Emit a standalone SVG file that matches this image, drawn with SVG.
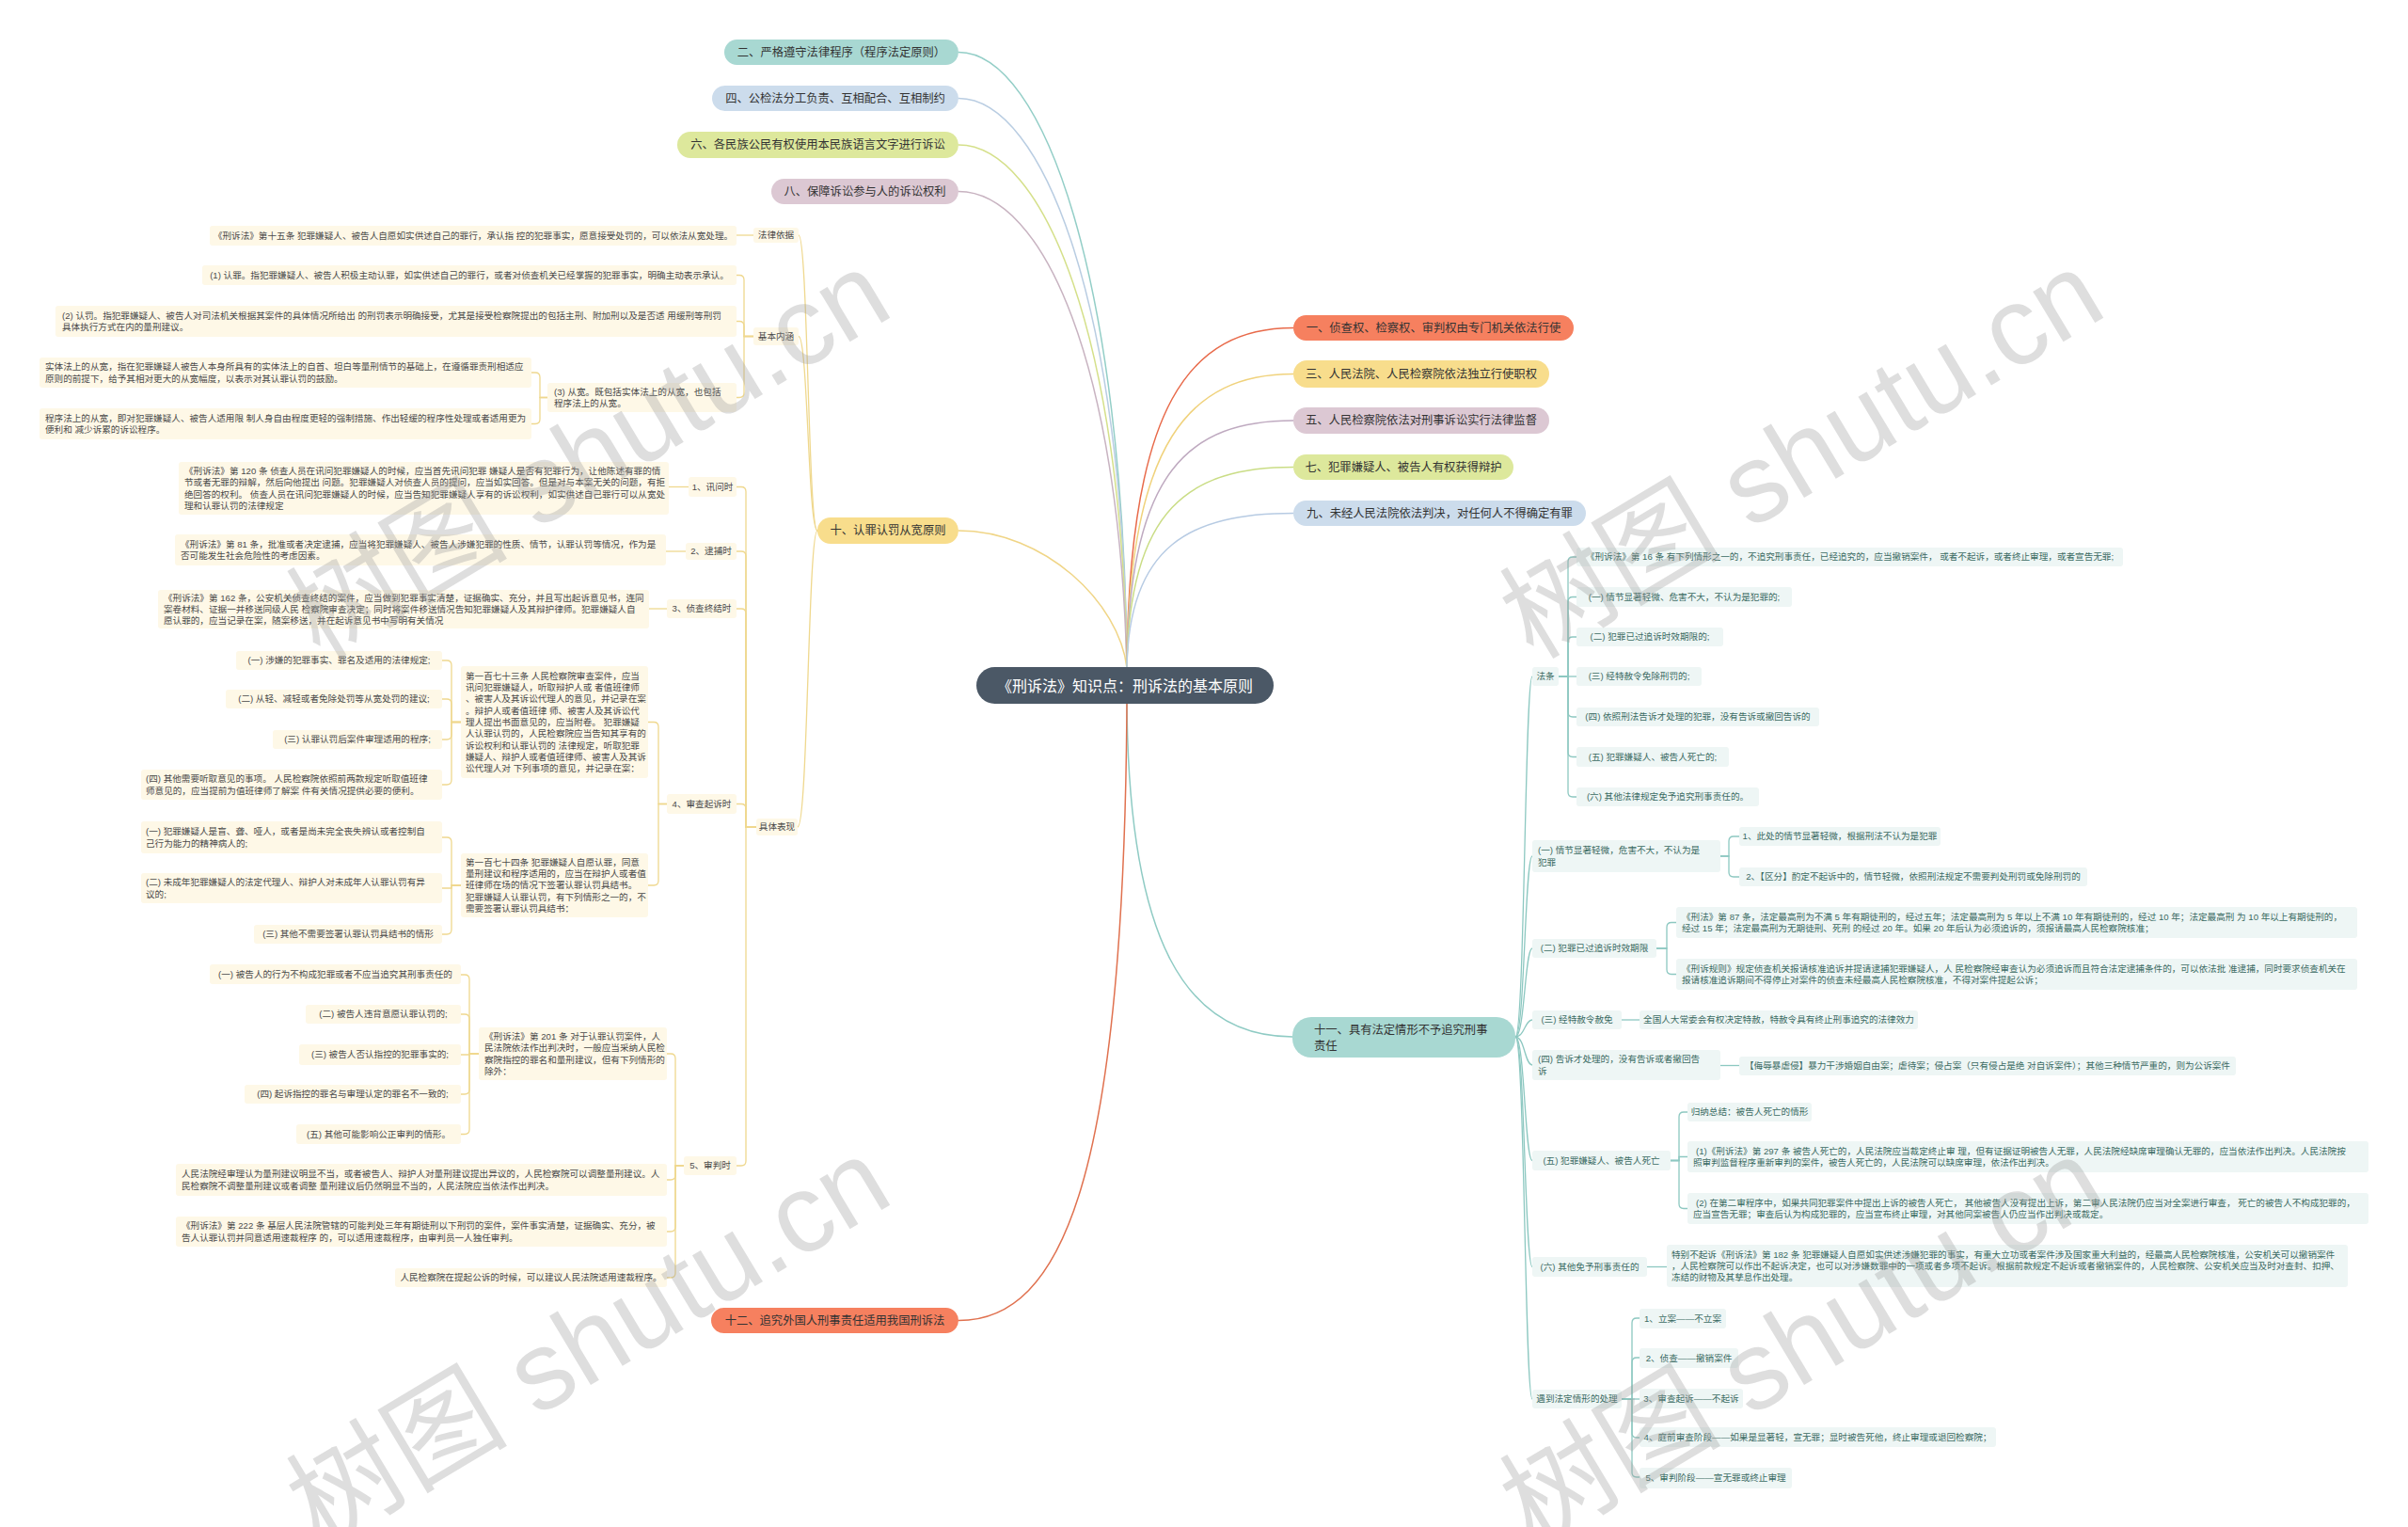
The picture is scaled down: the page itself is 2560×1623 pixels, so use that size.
<svg xmlns="http://www.w3.org/2000/svg" width="2560" height="1623" viewBox="0 0 2560 1623">
<style>
text{font-family:"Liberation Sans","Noto Sans CJK SC",sans-serif}
.b1{fill:#FEF8E7}
.b2{fill:#EEF6F5}
.t1{font-size:9.6px;fill:#4a4a4a}
.t2{font-size:9.6px;fill:#3B6B63}
.m{text-anchor:middle}
.rt{font-size:12.3px;fill:#333;text-anchor:middle}
.lc{fill:none;stroke:#EFD88E;stroke-width:1.3}
.rc{fill:none;stroke:#8DC8C1;stroke-width:1.3}
.mc{fill:none;stroke-width:1.5}
.wm{font-size:118px;fill:#999;fill-opacity:.32}
</style>
<rect width="2560" height="1623" fill="#fff"/>
<g id="connectors">
<path class="mc" stroke="#93CEC7" d="M1198,710 C1195,300 1110,55.5 1019,55.5"/>
<path class="mc" stroke="#B9CDE2" d="M1198,710 C1195,330 1110,104.5 1019,104.5"/>
<path class="mc" stroke="#D5E08A" d="M1198,710 C1193,360 1110,154 1019,154"/>
<path class="mc" stroke="#C8B3C1" d="M1198,710 C1190,390 1110,203.5 1019,203.5"/>
<path class="mc" stroke="#F0D586" d="M1198,710 C1190,640 1110,564 1019,564"/>
<path class="mc" stroke="#E86A4A" d="M1198,710 C1200,430 1265,348.5 1375,348.5"/>
<path class="mc" stroke="#F0D27C" d="M1198,710 C1200,470 1265,397.5 1375,397.5"/>
<path class="mc" stroke="#BFAAC0" d="M1198,710 C1200,500 1265,447 1375,447"/>
<path class="mc" stroke="#CADD86" d="M1198,710 C1200,540 1265,496.5 1375,496.5"/>
<path class="mc" stroke="#B7CBE3" d="M1198,710 C1200,580 1265,545.5 1375,545.5"/>
<path class="mc" stroke="#8FCBC4" d="M1198,748 C1200,1000 1260,1102 1374,1102"/>
<path class="mc" stroke="#E0714F" d="M1198,748 C1195,1250 1130,1403.5 1019,1403.5"/>
<path class="lc" d="M869,564 C859,564 859,250 849,250"/>
<path class="lc" d="M869,564 C859,564 859,357.5 849,357.5"/>
<path class="lc" d="M869,564 C859,564 859,879 848,879"/>
<path class="lc" d="M801,250 H783"/>
<path class="lc" d="M801,357.5 H791 V297.5 Q791,292.5 786,292.5 H783"/>
<path class="lc" d="M801,357.5 H791 V346.5 Q791,341.5 786,341.5 H783"/>
<path class="lc" d="M801,357.5 H791 V417.5 Q791,422.5 786,422.5 H783"/>
<path class="lc" d="M582,422.5 H574 V401 Q574,396 569,396 H565"/>
<path class="lc" d="M582,422.5 H574 V445.5 Q574,450.5 569,450.5 H565"/>
<path class="lc" d="M804,879 H793 V522.5 Q793,517.5 788,517.5 H783"/>
<path class="lc" d="M804,879 H793 V591 Q793,586 788,586 H783"/>
<path class="lc" d="M804,879 H793 V652 Q793,647 788,647 H783"/>
<path class="lc" d="M804,879 H793 V859.5 Q793,854.5 788,854.5 H783"/>
<path class="lc" d="M804,879 H793 V1234 Q793,1239 788,1239 H783"/>
<path class="lc" d="M732,517.5 H711"/>
<path class="lc" d="M729,586 H708"/>
<path class="lc" d="M709,647 H690"/>
<path class="lc" d="M709,854.5 H700 V772.5 Q700,767.5 695,767.5 H689"/>
<path class="lc" d="M709,854.5 H700 V936 Q700,941 695,941 H689"/>
<path class="lc" d="M490,767.5 H480 V707 Q480,702 475,702 H470"/>
<path class="lc" d="M490,767.5 H480 V748 Q480,743 475,743 H470"/>
<path class="lc" d="M490,767.5 H480 V781 Q480,786 475,786 H470"/>
<path class="lc" d="M490,767.5 H480 V829 Q480,834 475,834 H470"/>
<path class="lc" d="M490,941 H480 V895 Q480,890 475,890 H470"/>
<path class="lc" d="M490,941 H480 V944 H470"/>
<path class="lc" d="M490,941 H480 V988 Q480,993 475,993 H470"/>
<path class="lc" d="M727,1239 H718 V1125 Q718,1120 713,1120 H709"/>
<path class="lc" d="M727,1239 H718 V1249 Q718,1254 713,1254 H709"/>
<path class="lc" d="M727,1239 H718 V1304 Q718,1309 713,1309 H709"/>
<path class="lc" d="M727,1239 H718 V1353 Q718,1358 713,1358 H709"/>
<path class="lc" d="M509,1120 H499 V1041 Q499,1036 494,1036 H490"/>
<path class="lc" d="M509,1120 H499 V1083 Q499,1078 494,1078 H490"/>
<path class="lc" d="M509,1120 H499 V1121 H490"/>
<path class="lc" d="M509,1120 H499 V1158 Q499,1163 494,1163 H490"/>
<path class="lc" d="M509,1120 H499 V1200.5 Q499,1205.5 494,1205.5 H490"/>
<path class="rc" d="M1611,1102 C1621,1102 1621,719 1629,719"/>
<path class="rc" d="M1611,1102 C1621,1102 1621,910 1629,910"/>
<path class="rc" d="M1611,1102 C1621,1102 1621,1008 1629,1008"/>
<path class="rc" d="M1611,1102 C1621,1102 1621,1084 1629,1084"/>
<path class="rc" d="M1611,1102 C1621,1102 1621,1132 1629,1132"/>
<path class="rc" d="M1611,1102 C1621,1102 1621,1233.5 1629,1233.5"/>
<path class="rc" d="M1611,1102 C1621,1102 1621,1346.5 1629,1346.5"/>
<path class="rc" d="M1611,1102 C1621,1102 1621,1487 1629,1487"/>
<path class="rc" d="M1657,719 H1667 V597 Q1667,592 1672,592 H1676"/>
<path class="rc" d="M1657,719 H1667 V639.5 Q1667,634.5 1672,634.5 H1676"/>
<path class="rc" d="M1657,719 H1667 V682 Q1667,677 1672,677 H1676"/>
<path class="rc" d="M1657,719 H1676"/>
<path class="rc" d="M1657,719 H1667 V757 Q1667,762 1672,762 H1676"/>
<path class="rc" d="M1657,719 H1667 V799.5 Q1667,804.5 1672,804.5 H1676"/>
<path class="rc" d="M1657,719 H1667 V842 Q1667,847 1672,847 H1676"/>
<path class="rc" d="M1829,910 H1838 V894 Q1838,889 1843,889 H1849"/>
<path class="rc" d="M1829,910 H1838 V927 Q1838,932 1843,932 H1849"/>
<path class="rc" d="M1761,1008 H1772 V985.5 Q1772,980.5 1777,980.5 H1782"/>
<path class="rc" d="M1761,1008 H1772 V1030.5 Q1772,1035.5 1777,1035.5 H1782"/>
<path class="rc" d="M1724,1084 H1743"/>
<path class="rc" d="M1829,1132.5 H1849"/>
<path class="rc" d="M1776,1233.5 H1785 V1187 Q1785,1182 1790,1182 H1794"/>
<path class="rc" d="M1776,1233.5 H1785 V1229.5 H1794"/>
<path class="rc" d="M1776,1233.5 H1785 V1279.5 Q1785,1284.5 1790,1284.5 H1794"/>
<path class="rc" d="M1751,1346.5 H1772"/>
<path class="rc" d="M1724,1487 H1735 V1406 Q1735,1401 1740,1401 H1743"/>
<path class="rc" d="M1724,1487 H1735 V1448 Q1735,1443 1740,1443 H1743"/>
<path class="rc" d="M1724,1487 H1743"/>
<path class="rc" d="M1724,1487 H1735 V1523 Q1735,1528 1740,1528 H1743"/>
<path class="rc" d="M1724,1487 H1735 V1565 Q1735,1570 1740,1570 H1743"/>
</g>
<g id="root"><rect x="1038" y="709" width="316" height="39" rx="19.5" fill="#4B5866"/><text x="1196" y="734.5" font-size="16" fill="#fff" text-anchor="middle">《刑诉法》知识点：刑诉法的基本原则</text></g>
<g id="n2"><rect x="770" y="42" width="249" height="27" rx="13.5" fill="#A8D8D2"/><text class="rt" x="894.5" y="59.8">二、严格遵守法律程序（程序法定原则）</text></g>
<g id="n4"><rect x="757" y="91" width="262" height="27" rx="13.5" fill="#CCDCEC"/><text class="rt" x="888" y="108.8">四、公检法分工负责、互相配合、互相制约</text></g>
<g id="n6"><rect x="720" y="140" width="299" height="28" rx="14" fill="#DDE89C"/><text class="rt" x="869.5" y="158.3">六、各民族公民有权使用本民族语言文字进行诉讼</text></g>
<g id="n8"><rect x="820" y="190" width="199" height="27" rx="13.5" fill="#DCC8D3"/><text class="rt" x="919.5" y="207.8">八、保障诉讼参与人的诉讼权利</text></g>
<g id="n10"><rect x="869" y="550" width="150" height="28" rx="14" fill="#F8DD8C"/><text class="rt" x="944" y="568.3">十、认罪认罚从宽原则</text></g>
<g id="n1"><rect x="1375" y="335" width="298" height="27" rx="13.5" fill="#F6805F"/><text class="rt" x="1524" y="352.8">一、侦查权、检察权、审判权由专门机关依法行使</text></g>
<g id="n3"><rect x="1375" y="383" width="272" height="29" rx="14.5" fill="#F8DD8C"/><text class="rt" x="1511" y="401.8">三、人民法院、人民检察院依法独立行使职权</text></g>
<g id="n5"><rect x="1375" y="433" width="272" height="28" rx="14" fill="#DCC8D3"/><text class="rt" x="1511" y="451.3">五、人民检察院依法对刑事诉讼实行法律监督</text></g>
<g id="n7"><rect x="1375" y="483" width="234" height="27" rx="13.5" fill="#DDE89C"/><text class="rt" x="1492" y="500.8">七、犯罪嫌疑人、被告人有权获得辩护</text></g>
<g id="n9"><rect x="1375" y="532" width="311" height="27" rx="13.5" fill="#CCDCEC"/><text class="rt" x="1530.5" y="549.8">九、未经人民法院依法判决，对任何人不得确定有罪</text></g>
<g id="n11"><rect x="1374" y="1081" width="237" height="43" rx="20" fill="#A8D8D2"/><text font-size="12.3" fill="#333" x="1397" y="1099.3">十一、具有法定情形不予追究刑事<tspan x="1397" y="1116">责任</tspan></text></g>
<g id="n12"><rect x="756" y="1390" width="263" height="27" rx="13.5" fill="#F6805F"/><text class="rt" x="887.5" y="1407.8">十二、追究外国人刑事责任适用我国刑诉法</text></g>
<g id="A"><rect class="b1" x="801" y="242" width="48" height="16" rx="3"/><text class="t1 m" x="825" y="253.4">法律依据</text></g>
<g id="B"><rect class="b1" x="223" y="240" width="560" height="21" rx="3"/><text class="t1 m" x="503" y="253.9">《刑诉法》第十五条 犯罪嫌疑人、被告人自愿如实供述自己的罪行，承认指 控的犯罪事实，愿意接受处罚的，可以依法从宽处理。</text></g>
<g id="C"><rect class="b1" x="801" y="348" width="48" height="19" rx="3"/><text class="t1 m" x="825" y="360.9">基本内涵</text></g>
<g id="D"><rect class="b1" x="215" y="282" width="568" height="21" rx="3"/><text class="t1 m" x="499" y="295.9">(1) 认罪。指犯罪嫌疑人、被告人积极主动认罪，如实供述自己的罪行，或者对侦查机关已经掌握的犯罪事实，明确主动表示承认。</text></g>
<g id="E"><rect class="b1" x="59" y="325" width="724" height="33" rx="3"/><text class="t1" x="66" y="338.8">(2) 认罚。指犯罪嫌疑人、被告人对司法机关根据其案件的具体情况所给出 的刑罚表示明确接受，尤其是接受检察院提出的包括主刑、附加刑以及是否适 用缓刑等刑罚<tspan x="66" y="351.1">具体执行方式在内的量刑建议。</tspan></text></g>
<g id="F"><rect class="b1" x="582" y="407" width="201" height="31" rx="3"/><text class="t1" x="589" y="419.8">(3) 从宽。既包括实体法上的从宽，也包括<tspan x="589" y="432">程序法上的从宽。</tspan></text></g>
<g id="G"><rect class="b1" x="42" y="380" width="523" height="32" rx="3"/><text class="t1" x="48" y="393.3">实体法上的从宽，指在犯罪嫌疑人被告人本身所具有的实体法上的自首、坦白等量刑情节的基础上，在遵循罪责刑相适应<tspan x="48" y="405.5">原则的前提下，给予其相对更大的从宽幅度，以表示对其认罪认罚的鼓励。</tspan></text></g>
<g id="H"><rect class="b1" x="42" y="434" width="523" height="33" rx="3"/><text class="t1" x="48" y="447.8">程序法上的从宽，即对犯罪嫌疑人、被告人适用限 制人身自由程度更轻的强制措施、作出轻缓的程序性处理或者适用更为<tspan x="48" y="460">便利和 减少诉累的诉讼程序。</tspan></text></g>
<g id="I"><rect class="b1" x="804" y="870" width="44" height="18" rx="3"/><text class="t1 m" x="826" y="882.4">具体表现</text></g>
<g id="J"><rect class="b1" x="732" y="507" width="51" height="21" rx="3"/><text class="t1 m" x="757.5" y="520.9">1、讯问时</text></g>
<g id="K"><rect class="b1" x="190" y="491" width="521" height="56" rx="3"/><text class="t1" x="196" y="503.9">《刑诉法》第 120 条 侦查人员在讯问犯罪嫌疑人的时候，应当首先讯问犯罪 嫌疑人是否有犯罪行为，让他陈述有罪的情<tspan x="196" y="516.2">节或者无罪的辩解，然后向他提出 问题。犯罪嫌疑人对侦查人员的提问，应当如实回答。但是对与本案无关的问题，有拒</tspan><tspan x="196" y="528.6">绝回答的权利。 侦查人员在讯问犯罪嫌疑人的时候，应当告知犯罪嫌疑人享有的诉讼权利，如实供述自己罪行可以从宽处</tspan><tspan x="196" y="540.9">理和认罪认罚的法律规定</tspan></text></g>
<g id="L"><rect class="b1" x="729" y="577" width="54" height="18" rx="3"/><text class="t1 m" x="756" y="589.4">2、逮捕时</text></g>
<g id="M"><rect class="b1" x="186" y="568" width="522" height="33" rx="3"/><text class="t1" x="192" y="581.8">《刑诉法》第 81 条，批准或者决定逮捕，应当将犯罪嫌疑人、被告人涉嫌犯罪的性质、情节，认罪认罚等情况，作为是<tspan x="192" y="594.1">否可能发生社会危险性的考虑因素。</tspan></text></g>
<g id="N"><rect class="b1" x="709" y="637" width="74" height="20" rx="3"/><text class="t1 m" x="746" y="650.4">3、侦查终结时</text></g>
<g id="O"><rect class="b1" x="168" y="627" width="522" height="41" rx="3"/><text class="t1" x="174" y="638.6">《刑诉法》第 162 条，公安机关侦查终结的案件，应当做到犯罪事实清楚，证据确实、充分，并且写出起诉意见书，连同<tspan x="174" y="650.9">案卷材料、证据一并移送同级人民 检察院审查决定；同时将案件移送情况告知犯罪嫌疑人及其辩护律师。犯罪嫌疑人自</tspan><tspan x="174" y="663.2">愿认罪的，应当记录在案，随案移送，并在起诉意见书中写明有关情况</tspan></text></g>
<g id="P"><rect class="b1" x="709" y="844" width="74" height="21" rx="3"/><text class="t1 m" x="746" y="857.9">4、审查起诉时</text></g>
<g id="Q"><rect class="b1" x="490" y="708" width="199" height="119" rx="3"/><text class="t1" x="495" y="721.7">第一百七十三条 人民检察院审查案件，应当<tspan x="495" y="734">讯问犯罪嫌疑人，听取辩护人或 者值班律师</tspan><tspan x="495" y="746.3">、被害人及其诉讼代理人的意见，并记录在案</tspan><tspan x="495" y="758.6">。辩护人或者值班律 师、被害人及其诉讼代</tspan><tspan x="495" y="770.9">理人提出书面意见的，应当附卷。 犯罪嫌疑</tspan><tspan x="495" y="783.2">人认罪认罚的，人民检察院应当告知其享有的</tspan><tspan x="495" y="795.5">诉讼权利和认罪认罚的 法律规定，听取犯罪</tspan><tspan x="495" y="807.8">嫌疑人、辩护人或者值班律师、被害人及其诉</tspan><tspan x="495" y="820.1">讼代理人对 下列事项的意见，并记录在案：</tspan></text></g>
<g id="R1"><rect class="b1" x="251" y="692" width="219" height="20" rx="3"/><text class="t1 m" x="360.5" y="705.4">(一) 涉嫌的犯罪事实、罪名及适用的法律规定;</text></g>
<g id="R2"><rect class="b1" x="240" y="733" width="230" height="20" rx="3"/><text class="t1 m" x="355" y="746.4">(二) 从轻、减轻或者免除处罚等从宽处罚的建议;</text></g>
<g id="R3"><rect class="b1" x="290" y="776" width="180" height="20" rx="3"/><text class="t1 m" x="380" y="789.4">(三) 认罪认罚后案件审理适用的程序;</text></g>
<g id="R4"><rect class="b1" x="150" y="818" width="320" height="32" rx="3"/><text class="t1" x="155" y="831.3">(四) 其他需要听取意见的事项。 人民检察院依照前两款规定听取值班律<tspan x="155" y="843.6">师意见的，应当提前为值班律师了解案 件有关情况提供必要的便利。</tspan></text></g>
<g id="S"><rect class="b1" x="490" y="907" width="199" height="68" rx="3"/><text class="t1" x="495" y="919.8">第一百七十四条 犯罪嫌疑人自愿认罪，同意<tspan x="495" y="932.1">量刑建议和程序适用的，应当在辩护人或者值</tspan><tspan x="495" y="944.4">班律师在场的情况下签署认罪认罚具结书。</tspan><tspan x="495" y="956.7">犯罪嫌疑人认罪认罚，有下列情形之一的，不</tspan><tspan x="495" y="969">需要签署认罪认罚具结书：</tspan></text></g>
<g id="T1"><rect class="b1" x="150" y="873" width="320" height="34" rx="3"/><text class="t1" x="155" y="887.3">(一) 犯罪嫌疑人是盲、聋、哑人，或者是尚未完全丧失辨认或者控制自<tspan x="155" y="899.6">己行为能力的精神病人的;</tspan></text></g>
<g id="T2"><rect class="b1" x="150" y="928" width="320" height="32" rx="3"/><text class="t1" x="155" y="941.3">(二) 未成年犯罪嫌疑人的法定代理人、辩护人对未成年人认罪认罚有异<tspan x="155" y="953.6">议的;</tspan></text></g>
<g id="T3"><rect class="b1" x="270" y="983" width="200" height="20" rx="3"/><text class="t1 m" x="370" y="996.4">(三) 其他不需要签署认罪认罚具结书的情形</text></g>
<g id="U"><rect class="b1" x="727" y="1229" width="56" height="20" rx="3"/><text class="t1 m" x="755" y="1242.4">5、审判时</text></g>
<g id="V"><rect class="b1" x="509" y="1092" width="200" height="56" rx="3"/><text class="t1" x="515" y="1104.9">《刑诉法》第 201 条 对于认罪认罚案件，人<tspan x="515" y="1117.2">民法院依法作出判决时，一般应当采纳人民检</tspan><tspan x="515" y="1129.6">察院指控的罪名和量刑建议，但有下列情形的</tspan><tspan x="515" y="1141.9">除外：</tspan></text></g>
<g id="W1"><rect class="b1" x="223" y="1025" width="267" height="21" rx="3"/><text class="t1 m" x="356.5" y="1039.4">(一) 被告人的行为不构成犯罪或者不应当追究其刑事责任的</text></g>
<g id="W2"><rect class="b1" x="325" y="1068" width="165" height="20" rx="3"/><text class="t1 m" x="407.5" y="1081.4">(二) 被告人违背意愿认罪认罚的;</text></g>
<g id="W3"><rect class="b1" x="318" y="1110" width="172" height="22" rx="3"/><text class="t1 m" x="404" y="1124.4">(三) 被告人否认指控的犯罪事实的;</text></g>
<g id="W4"><rect class="b1" x="260" y="1153" width="230" height="20" rx="3"/><text class="t1 m" x="375" y="1166.4">(四) 起诉指控的罪名与审理认定的罪名不一致的;</text></g>
<g id="W5"><rect class="b1" x="315" y="1195" width="175" height="21" rx="3"/><text class="t1 m" x="402.5" y="1208.9">(五) 其他可能影响公正审判的情形。</text></g>
<g id="X"><rect class="b1" x="187" y="1237" width="522" height="34" rx="3"/><text class="t1" x="193" y="1251.3">人民法院经审理认为量刑建议明显不当，或者被告人、辩护人对量刑建议提出异议的，人民检察院可以调整量刑建议。人<tspan x="193" y="1263.6">民检察院不调整量刑建议或者调整 量刑建议后仍然明显不当的，人民法院应当依法作出判决。</tspan></text></g>
<g id="Y"><rect class="b1" x="187" y="1293" width="522" height="32" rx="3"/><text class="t1" x="193" y="1306.3">《刑诉法》第 222 条 基层人民法院管辖的可能判处三年有期徒刑以下刑罚的案件，案件事实清楚，证据确实、充分，被<tspan x="193" y="1318.6">告人认罪认罚并同意适用速裁程序 的，可以适用速裁程序，由审判员一人独任审判。</tspan></text></g>
<g id="Z"><rect class="b1" x="420" y="1348" width="289" height="20" rx="3"/><text class="t1 m" x="564.5" y="1361.4">人民检察院在提起公诉的时候，可以建议人民法院适用速裁程序。</text></g>
<g id="RA"><rect class="b2" x="1629" y="709" width="28" height="20" rx="3"/><text class="t2 m" x="1643" y="722.4">法条</text></g>
<g id="RB"><rect class="b2" x="1676" y="582" width="581" height="20" rx="3"/><text class="t2 m" x="1966.5" y="595.4">《刑诉法》第 16 条 有下列情形之一的，不追究刑事责任，已经追究的，应当撤销案件， 或者不起诉，或者终止审理，或者宣告无罪;</text></g>
<g id="RC"><rect class="b2" x="1676" y="624" width="229" height="21" rx="3"/><text class="t2 m" x="1790.5" y="637.9">(一) 情节显著轻微、危害不大，不认为是犯罪的;</text></g>
<g id="RD"><rect class="b2" x="1676" y="667" width="156" height="20" rx="3"/><text class="t2 m" x="1754" y="680.4">(二) 犯罪已过追诉时效期限的;</text></g>
<g id="RE"><rect class="b2" x="1676" y="709" width="133" height="20" rx="3"/><text class="t2 m" x="1742.5" y="722.4">(三) 经特赦令免除刑罚的;</text></g>
<g id="RF"><rect class="b2" x="1676" y="752" width="258" height="20" rx="3"/><text class="t2 m" x="1805" y="765.4">(四) 依照刑法告诉才处理的犯罪，没有告诉或撤回告诉的</text></g>
<g id="RG"><rect class="b2" x="1676" y="794" width="162" height="21" rx="3"/><text class="t2 m" x="1757" y="807.9">(五) 犯罪嫌疑人、被告人死亡的;</text></g>
<g id="RH"><rect class="b2" x="1676" y="837" width="194" height="20" rx="3"/><text class="t2 m" x="1773" y="850.4">(六) 其他法律规定免予追究刑事责任的。</text></g>
<g id="RI"><rect class="b2" x="1629" y="893" width="200" height="34" rx="3"/><text class="t2" x="1635" y="907.3">(一) 情节显著轻微，危害不大，不认为是<tspan x="1635" y="919.6">犯罪</tspan></text></g>
<g id="RJ"><rect class="b2" x="1849" y="879" width="214" height="20" rx="3"/><text class="t2 m" x="1956" y="892.4">1、此处的情节显著轻微，根据刑法不认为是犯罪</text></g>
<g id="RK"><rect class="b2" x="1849" y="922" width="370" height="20" rx="3"/><text class="t2 m" x="2034" y="935.4">2、【区分】酌定不起诉中的，情节轻微，依照刑法规定不需要判处刑罚或免除刑罚的</text></g>
<g id="RL"><rect class="b2" x="1629" y="998" width="132" height="20" rx="3"/><text class="t2 m" x="1695" y="1011.4">(二) 犯罪已过追诉时效期限</text></g>
<g id="RM"><rect class="b2" x="1782" y="964" width="724" height="33" rx="3"/><text class="t2" x="1788" y="977.8">《刑法》第 87 条，法定最高刑为不满 5 年有期徒刑的，经过五年；法定最高刑为 5 年以上不满 10 年有期徒刑的，经过 10 年；法定最高刑 为 10 年以上有期徒刑的，<tspan x="1788" y="990.1">经过 15 年；法定最高刑为无期徒刑、死刑 的经过 20 年。如果 20 年后认为必须追诉的，须报请最高人民检察院核准；</tspan></text></g>
<g id="RN"><rect class="b2" x="1782" y="1019" width="724" height="33" rx="3"/><text class="t2" x="1788" y="1032.8">《刑诉规则》规定侦查机关报请核准追诉并提请逮捕犯罪嫌疑人，人 民检察院经审查认为必须追诉而且符合法定逮捕条件的，可以依法批 准逮捕，同时要求侦查机关在<tspan x="1788" y="1045.1">报请核准追诉期间不得停止对案件的侦查未经最高人民检察院核准，不得对案件提起公诉；</tspan></text></g>
<g id="RO"><rect class="b2" x="1629" y="1074" width="95" height="20" rx="3"/><text class="t2 m" x="1676.5" y="1087.4">(三) 经特赦令赦免</text></g>
<g id="RP"><rect class="b2" x="1743" y="1074" width="296" height="20" rx="3"/><text class="t2 m" x="1891" y="1087.4">全国人大常委会有权决定特赦，特赦令具有终止刑事追究的法律效力</text></g>
<g id="RQ"><rect class="b2" x="1629" y="1116" width="200" height="32" rx="3"/><text class="t2" x="1635" y="1129.3">(四) 告诉才处理的，没有告诉或者撤回告<tspan x="1635" y="1141.6">诉</tspan></text></g>
<g id="RR"><rect class="b2" x="1849" y="1123" width="528" height="20" rx="3"/><text class="t2 m" x="2113" y="1136.4">【侮辱暴虐侵】暴力干涉婚姻自由案；虐待案；侵占案（只有侵占是绝 对自诉案件）；其他三种情节严重的，则为公诉案件</text></g>
<g id="RS"><rect class="b2" x="1629" y="1223" width="147" height="21" rx="3"/><text class="t2 m" x="1702.5" y="1236.9">(五) 犯罪嫌疑人、被告人死亡</text></g>
<g id="RT"><rect class="b2" x="1794" y="1172" width="132" height="20" rx="3"/><text class="t2 m" x="1860" y="1185.4">归纳总结：被告人死亡的情形</text></g>
<g id="RU"><rect class="b2" x="1794" y="1213" width="724" height="33" rx="3"/><text class="t2" x="1803" y="1226.8">(1)《刑诉法》第 297 条 被告人死亡的，人民法院应当裁定终止审 理，但有证据证明被告人无罪，人民法院经缺席审理确认无罪的，应当依法作出判决。人民法院按<tspan x="1800" y="1239.1">照审判监督程序重新审判的案件，被告人死亡的，人民法院可以缺席审理，依法作出判决。</tspan></text></g>
<g id="RV"><rect class="b2" x="1794" y="1268" width="724" height="33" rx="3"/><text class="t2" x="1803" y="1281.8">(2) 在第二审程序中，如果共同犯罪案件中提出上诉的被告人死亡， 其他被告人没有提出上诉，第二审人民法院仍应当对全案进行审查， 死亡的被告人不构成犯罪的，<tspan x="1800" y="1294.1">应当宣告无罪；审查后认为构成犯罪的，应当宣布终止审理，对其他同案被告人仍应当作出判决或裁定。</tspan></text></g>
<g id="RW"><rect class="b2" x="1629" y="1336" width="122" height="21" rx="3"/><text class="t2 m" x="1690" y="1349.9">(六) 其他免予刑事责任的</text></g>
<g id="RX"><rect class="b2" x="1772" y="1323" width="724" height="45" rx="3"/><text class="t2" x="1777" y="1336.6">特别不起诉《刑诉法》第 182 条 犯罪嫌疑人自愿如实供述涉嫌犯罪的事实，有重大立功或者案件涉及国家重大利益的，经最高人民检察院核准，公安机关可以撤销案件<tspan x="1777" y="1348.9">，人民检察院可以作出不起诉决定，也可以对涉嫌数罪中的一项或者多项不起诉。根据前款规定不起诉或者撤销案件的，人民检察院、公安机关应当及时对查封、扣押、</tspan><tspan x="1777" y="1361.2">冻结的财物及其孳息作出处理。</tspan></text></g>
<g id="RY"><rect class="b2" x="1629" y="1477" width="95" height="20" rx="3"/><text class="t2 m" x="1676.5" y="1490.4">遇到法定情形的处理</text></g>
<g id="RZ1"><rect class="b2" x="1743" y="1391" width="92" height="21" rx="3"/><text class="t2 m" x="1789" y="1404.9">1、立案——不立案</text></g>
<g id="RZ2"><rect class="b2" x="1743" y="1433" width="105" height="21" rx="3"/><text class="t2 m" x="1795.5" y="1446.9">2、侦查——撤销案件</text></g>
<g id="RZ3"><rect class="b2" x="1743" y="1476" width="110" height="21" rx="3"/><text class="t2 m" x="1798" y="1489.9">3、审查起诉——不起诉</text></g>
<g id="RZ4"><rect class="b2" x="1743" y="1517" width="379" height="21" rx="3"/><text class="t2 m" x="1932.5" y="1530.9">4、庭前审查阶段——如果是显著轻，宣无罪；显时被告死他，终止审理或退回检察院；</text></g>
<g id="RZ5"><rect class="b2" x="1743" y="1560" width="162" height="22" rx="3"/><text class="t2 m" x="1824" y="1574.4">5、审判阶段——宣无罪或终止审理</text></g>
<g id="watermark">
<text class="wm" transform="translate(340,702) rotate(-31)">树图 shutu.cn</text>
<text class="wm" transform="translate(1630,702) rotate(-31)">树图 shutu.cn</text>
<text class="wm" transform="translate(340,1645) rotate(-31)">树图 shutu.cn</text>
<text class="wm" transform="translate(1630,1645) rotate(-31)">树图 shutu.cn</text>
</g>
</svg>
